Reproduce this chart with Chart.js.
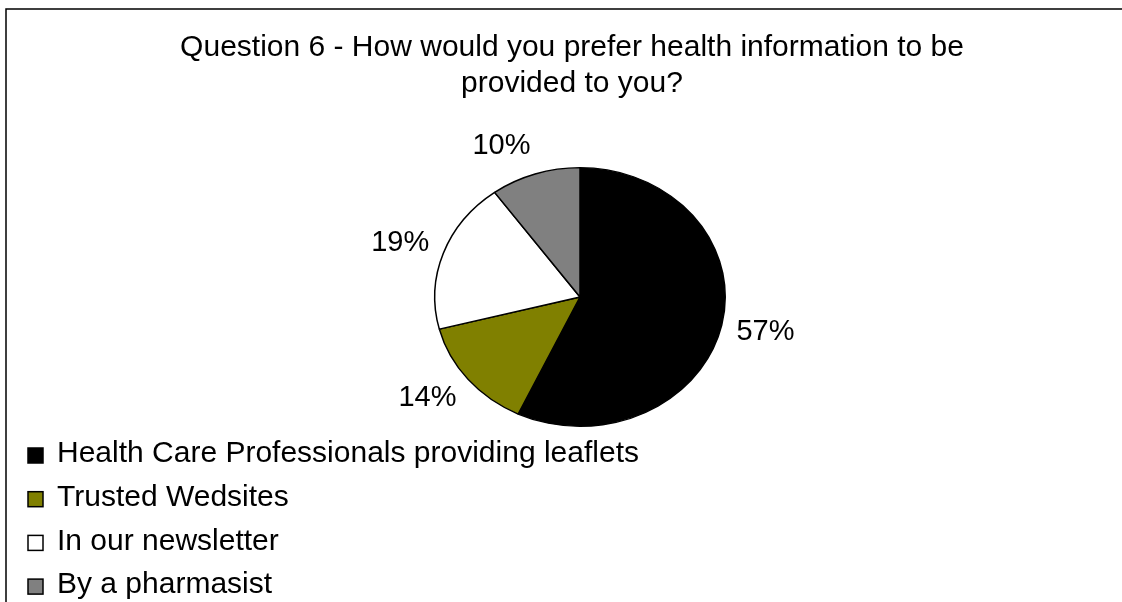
<!DOCTYPE html>
<html>
<head>
<meta charset="utf-8">
<script src="https://cdn.jsdelivr.net/npm/chart.js@4.4.0/dist/chart.umd.min.js"></script>
<style>
  html, body { margin: 0; padding: 0; background: #ffffff; }
  #wrap { position: relative; width: 1122px; height: 602px; }
</style>
</head>
<body>
<div id="wrap"><canvas id="c" width="1122" height="602"></canvas></div>
<script>
const categories = ['Health Care Professionals providing leaflets', 'Trusted Wedsites', 'In our newsletter', 'By a pharmasist'];
const shares = [57, 14, 19, 10];
const sliceColors = ['#000000', '#808000', '#ffffff', '#808080'];
const titleLines = ['Question 6 - How would you prefer health information to be', 'provided to you?'];

const FONT = '"Liberation Sans", Arial, sans-serif';
const Y_SQUASH = 130 / 146;

const ellipsePlugin = {
  id: 'ellipse',
  beforeDatasetsDraw(chart) {
    const arc = chart.getDatasetMeta(0).data[0];
    const ctx = chart.ctx;
    ctx.save();
    ctx.translate(arc.x, arc.y);
    ctx.scale(1, Y_SQUASH);
    ctx.translate(-arc.x, -arc.y);
  },
  afterDatasetsDraw(chart) {
    chart.ctx.restore();
  }
};

const decorPlugin = {
  id: 'decor',
  afterDraw(chart) {
    const ctx = chart.ctx;
    ctx.save();
    // frame
    ctx.strokeStyle = '#000000';
    ctx.lineWidth = 1.5;
    ctx.beginPath();
    ctx.moveTo(6, chart.height);
    ctx.lineTo(6, 9);
    ctx.lineTo(chart.width, 9);
    ctx.stroke();

    // title
    ctx.fillStyle = '#000000';
    ctx.textAlign = 'center';
    ctx.textBaseline = 'middle';
    ctx.font = '30px ' + FONT;
    titleLines.forEach((t, i) => ctx.fillText(t, 572, 48 + i * 36));

    // data labels
    const meta = chart.getDatasetMeta(0);
    const data = chart.data.datasets[0].data;
    ctx.font = '29px ' + FONT;
    meta.data.forEach((arc, i) => {
      const p = arc.getProps(['x', 'y', 'startAngle', 'endAngle', 'outerRadius'], true);
      const mid = (p.startAngle + p.endAngle) / 2;
      const dx = Math.cos(mid), dy = Math.sin(mid);
      const px = p.x + p.outerRadius * dx;
      const py = p.y + p.outerRadius * Y_SQUASH * dy;
      const txt = data[i] + '%';
      const w = ctx.measureText(txt).width;
      const h = 28;
      const gap = 15;
      const lx = px + dx * gap + Math.sign(dx) * w / 2;
      const ly = py + dy * gap + dy * h / 2;
      ctx.fillText(txt, lx, ly);
    });

    // legend
    ctx.textAlign = 'left';
    ctx.font = '30px ' + FONT;
    const colors = chart.data.datasets[0].backgroundColor;
    chart.data.labels.forEach((lab, i) => {
      const cy = 454 + i * 43.7;
      ctx.fillStyle = colors[i];
      ctx.fillRect(28, cy - 6, 15, 15);
      ctx.strokeStyle = '#000000';
      ctx.lineWidth = 1.5;
      ctx.strokeRect(28, cy - 6, 15, 15);
      ctx.fillStyle = '#000000';
      ctx.fillText(lab, 57, cy);
    });
    ctx.restore();
  }
};

new Chart(document.getElementById('c'), {
  type: 'pie',
  data: {
    labels: categories,
    datasets: [{
      data: shares,
      backgroundColor: sliceColors,
      borderColor: '#000000',
      borderWidth: 1.5
    }]
  },
  options: {
    responsive: false,
    devicePixelRatio: 1,
    animation: false,
    layout: { padding: { left: 434, right: 396, top: 151, bottom: 159 } },
    plugins: {
      legend: { display: false },
      title: { display: false },
      tooltip: { enabled: false }
    }
  },
  plugins: [ellipsePlugin, decorPlugin]
});
</script>
</body>
</html>
